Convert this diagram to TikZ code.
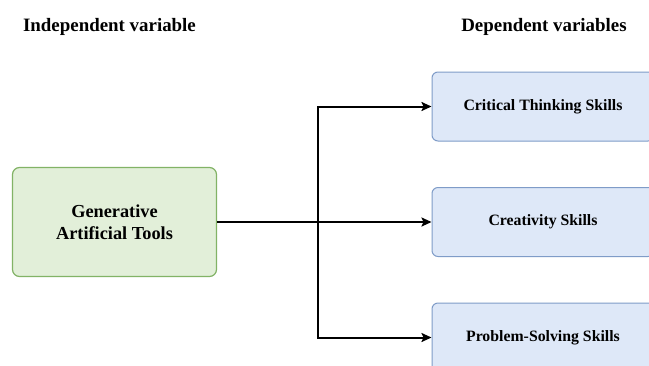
\documentclass[tikz,border=0pt]{standalone}
\usepackage{fontspec}
\setmainfont{Liberation Serif}
\usetikzlibrary{arrows.meta}
\definecolor{gfill}{HTML}{E2EFD9}
\definecolor{gdraw}{HTML}{82B366}
\definecolor{bfill}{HTML}{DEE8F8}
\definecolor{bdraw}{HTML}{7F9CC8}
\tikzset{
  gbox/.style={draw=gdraw, fill=gfill, line width=1.2pt, rounded corners=7pt,
    minimum width=204pt, minimum height=109pt, align=center,
    font=\fontsize{18.3}{21.5}\selectfont\bfseries, inner sep=0pt},
  bbox/.style={draw=bdraw, fill=bfill, line width=1pt, rounded corners=6pt,
    minimum width=222pt, minimum height=69pt, align=center,
    font=\fontsize{15.8}{19}\selectfont\bfseries, inner sep=0pt},
  hdr/.style={font=\fontsize{18.9}{22}\selectfont\bfseries, inner sep=0pt},
  conn/.style={line width=2pt, black},
  arr/.style={conn, -{Stealth[length=10pt,width=9pt,inset=2pt]}}
}
\begin{document}
\begin{tikzpicture}[x=1pt,y=-1pt]
\useasboundingbox[fill=white] (0,0) rectangle (649,365);
\clip (0,0) rectangle (649,365);
\node[hdr] (h1) at (109.5,27) {Independent variable};
\node[hdr] (h2) at (544,27) {Dependent variables};
\node[gbox] (g) at (114.5,222) {Generative\\Artificial Tools};
\node[bbox] (b1) at (543,106.5) {Critical Thinking Skills};
\node[bbox] (b2) at (543,222) {Creativity Skills};
\node[bbox] (b3) at (543,337.5) {Problem-Solving Skills};
\coordinate (j) at (318,222);
\draw[arr] (g.east) -- (b2.west);
\draw[arr] (j) |- (b1.west);
\draw[arr] (j) |- (b3.west);
\end{tikzpicture}
\end{document}
